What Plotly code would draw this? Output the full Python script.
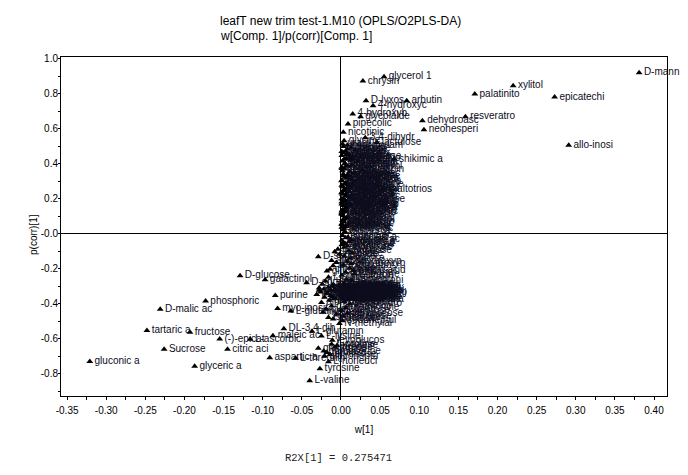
import plotly.graph_objects as go

# Outlying, individually readable variables
names_a = ["D-mann","xylitol","palatinito","epicatechi","glycerol 1","chrysin","D-lyxos","arbutin","4-hydroxyc","4-hydroxyb",
           "glycolalde","pipecolic","dehydroasc","resveratro","neohesperi","allo-inosi","nicotinic","3,4-dihydr","lactulose","shikimic a",
           "gluconic a","glyceric a","tartaric a","fructose","Sucrose","D-malic ac","phosphoric","D-glucose","galactinol","purine",
           "myo-inosit","L-glutamic","(-)-epicat","citric aci","L-ascorbic","maleic ac","DL-3,4-dih","aspartic a","L-threonin","L-valine",
           "tyrosine","L-norleuci","L-lysine","L-glutamin","N-methylal","L-proline","glutamine","homoserine","D-serine","D-sorbitol"]
w_a = [0.381,0.220,0.171,0.273,0.055,0.028,0.032,0.084,0.041,0.015,
       0.025,0.009,0.104,0.159,0.106,0.291,0.003,0.031,0.046,0.068,
       -0.321,-0.187,-0.248,-0.193,-0.226,-0.231,-0.173,-0.129,-0.097,-0.084,
       -0.081,-0.064,-0.155,-0.145,-0.116,-0.087,-0.073,-0.091,-0.058,-0.040,
       -0.027,-0.016,-0.025,-0.037,-0.002,-0.012,-0.029,-0.022,-0.029,-0.044]
p_a = [0.919,0.845,0.797,0.780,0.896,0.871,0.759,0.759,0.730,0.683,
       0.667,0.626,0.645,0.667,0.593,0.504,0.578,0.547,0.520,0.425,
       -0.732,-0.759,-0.555,-0.565,-0.662,-0.433,-0.386,-0.241,-0.264,-0.355,
       -0.428,-0.443,-0.603,-0.662,-0.605,-0.584,-0.544,-0.710,-0.713,-0.841,
       -0.773,-0.733,-0.586,-0.559,-0.515,-0.633,-0.656,-0.672,-0.133,-0.281]

# Crowded upper column
names_b = ["glycine","hydroxylam","uracil","thymine","adenine","ribose","xylose","lyxose","arabinose","fucose",
           "rhamnose","salicin","naringin","hesperidin","quercetin","kaempferol","catechin","rutin","gallic aci","caffeic ac",
           "ferulic ac","vanillic a","benzoic ac","sinapic ac","cinnamic a","quinic aci","chlorogeni","syringic a","tryptophan","adenosine",
           "guanosine","uridine","cytidine","inosine","xanthine","hypoxanthi","sucrose-6","maltose","maltotrios","cellobiose",
           "melibiose","raffinose","trehalose","turanose","lactose","sophorose","gentiobios","stearic ac","palmitic a","oleic acid",
           "linoleic a","myristic a","lauric aci","capric aci","beta-sitos","campestero","stigmaster","cholestero","DL-isoprop","alpha-keto",
           "alpha-toco","beta-alani","threitol","erythritol","arabitol","ribitol","pinitol","mannitol","lanosterol","squalene",
           "sebacic ac","azelaic ac","suberic ac","adipic aci","glutaric a",
           "apigenin","luteolin","myricetin","daidzein","genistein","phloretin","phlorizin","taxifolin","eriodictyo","amygdalin",
           "sesamol","thymol","eugenol","coumarin","scopoletin","esculetin","umbellifer","vanillin","tyrosol","orcinol",
           "pyrogallol","resorcinol","catechol","hydroquino","gentisic a","protocatec","homovanill","mandelic a","tropic aci","hippuric a",
           "nonanoic a","octanoic a","heptanoic","behenic ac","arachidic","lignoceric","tocopherol","phytol","farnesol","geraniol"]
w_b = [0.004,0.008,0.002,0.013,0.006,0.018,0.010,0.003,0.015,0.007,
       0.001,0.012,0.021,0.005,0.014,0.009,0.027,0.001,0.011,0.016,
       0.005,0.009,0.002,0.013,0.007,0.012,0.003,0.017,0.008,0.001,
       0.015,0.005,0.010,0.001,0.013,0.007,0.003,0.019,0.055,0.010,
       0.004,0.014,0.001,0.012,0.006,0.016,0.002,0.008,0.001,0.011,
       0.005,0.013,0.003,0.007,0.010,0.001,0.005,0.001,0.002,0.003,
       0.006,0.001,0.008,0.003,0.011,0.001,0.005,0.009,0.002,0.007,
       0.001,0.004,0.001,0.003,0.005,
       0.003,0.008,0.001,0.007,0.012,0.004,0.010,0.002,0.015,0.005,
       0.007,0.001,0.011,0.003,0.008,0.005,0.013,0.001,0.006,0.009,
       0.002,0.012,0.004,0.001,0.007,0.010,0.003,0.005,0.001,0.008,
       0.003,0.007,0.002,0.005,0.001,0.008,0.003,0.004,0.001,0.006]
p_b = [0.530,0.505,0.512,0.488,0.470,0.478,0.455,0.462,0.440,0.432,
       0.446,0.418,0.410,0.402,0.392,0.385,0.363,0.378,0.354,0.345,
       0.368,0.336,0.358,0.326,0.316,0.310,0.330,0.300,0.293,0.305,
       0.280,0.285,0.272,0.276,0.262,0.254,0.266,0.248,0.254,0.240,
       0.245,0.220,0.232,0.205,0.214,0.195,0.224,0.184,0.198,0.174,
       0.188,0.165,0.178,0.152,0.158,0.168,0.142,0.128,0.122,0.071,
       0.132,0.110,0.095,0.102,0.062,0.118,0.085,0.048,0.074,0.040,
       0.056,0.030,0.036,0.022,0.012,
       0.497,0.483,0.468,0.452,0.438,0.424,0.426,0.414,0.428,0.398,
       0.388,0.372,0.350,0.340,0.332,0.322,0.312,0.302,0.290,0.278,
       0.268,0.258,0.250,0.236,0.228,0.210,0.200,0.190,0.180,0.170,
       0.160,0.148,0.136,0.125,0.114,0.090,0.080,0.066,0.052,0.044]

# Crowded lower column and dense band
names_c = ["pyruvic ac","lactic aci","oxalic aci","succinic a","fumaric ac","glycolic a","malonic ac","threonic a","ribonic ac","xylonic ac",
           "galactose","mannose","sorbose","tagatose","psicose","allose","altrose","talose","gulose","idose",
           "2-hydroxyp","3-hydroxyp","isocitric","oxoglutari","aconitic a","citramalic","mucic acid","saccharic","glucuronic","galacturon",
           "L-alanine","L-leucine","L-isoleuci","L-serine","L-methioni","L-cysteine","L-arginine","L-histidin","L-phenylal","L-asparagi",
           "ornithine","citrulline","putrescine","spermidine","GABA","taurine","sarcosine","creatinine","betaine","choline",
           "urea","allantoin","ethanolami","phosphoeth","glycerophs","inositol-4","fructose-6","glucose-6-","mannose-6-","ribose-5-p",
           "nicotinami","pantothen","ascorbate","dehydroqui","pyroglutam","alpha-ketog","beta-hydro","gamma-toco","methionine","cystathion",
           "1-kestose","nystose","verbascose","stachyose","planteose","isomaltose","leucrose","palatinose","sedoheptul","xylulose",
           "ribulose","erythrose","threose","glucoheptu","levoglucos",
           "benzylamin","tyramine","dopamine","serotonin","histamine","agmatine","cadaverine","anthranili","kynurenine","picolinic",
           "saccharopi","aminoadipi","diaminopim","homocystei","glutathion","acetylglut","acetylseri","hydroxypro","oxoproline","indoleacet",
           "glutarate","itaconic a","mesaconic","citraconic","ketoglutar","pentonic a","lyxonic ac","arabonic a","galactonic","mannonic a"]
w_c = [0.002,0.006,0.001,0.009,0.003,0.011,0.001,0.006,0.004,0.013,
       -0.004,0.008,-0.008,0.010,-0.002,0.014,-0.012,0.004,0.012,-0.006,
       0.008,0.013,-0.010,0.003,0.011,-0.014,0.016,0.006,-0.018,0.001,
       -0.016,0.017,0.007,-0.020,0.014,0.004,-0.024,0.019,0.009,-0.011,
       -0.028,0.016,0.002,-0.022,0.012,-0.007,0.018,0.008,-0.026,0.020,
       0.005,-0.017,0.015,-0.031,0.009,0.001,-0.013,0.017,0.003,-0.021,
       0.010,-0.009,0.014,-0.015,0.004,-0.025,0.011,-0.012,0.006,-0.019,
       0.001,-0.023,0.008,-0.006,0.003,-0.016,-0.010,-0.028,0.002,-0.005,
       -0.018,-0.014,-0.008,-0.021,-0.011,
       -0.010,0.003,0.011,-0.003,0.016,0.007,-0.016,0.018,0.004,-0.008,
       0.013,0.001,-0.013,0.009,0.017,-0.005,0.006,0.015,-0.019,0.008,
       0.003,0.011,-0.002,0.017,0.006,-0.011,0.014,0.002,-0.007,0.008]
p_c = [-0.012,-0.025,-0.038,-0.022,-0.052,-0.046,-0.065,-0.058,-0.078,-0.034,
       -0.090,-0.072,-0.105,-0.098,-0.118,-0.112,-0.155,-0.130,-0.142,-0.166,
       -0.158,-0.172,-0.185,-0.182,-0.198,-0.205,-0.212,-0.222,-0.215,-0.238,
       -0.250,-0.232,-0.262,-0.272,-0.268,-0.285,-0.290,-0.296,-0.298,-0.302,
       -0.312,-0.308,-0.310,-0.318,-0.320,-0.325,-0.328,-0.332,-0.335,-0.338,
       -0.340,-0.342,-0.345,-0.348,-0.350,-0.352,-0.355,-0.358,-0.362,-0.365,
       -0.368,-0.372,-0.375,-0.382,-0.388,-0.395,-0.402,-0.415,-0.425,-0.432,
       -0.442,-0.450,-0.456,-0.462,-0.472,-0.480,-0.488,-0.325,-0.498,-0.640,
       -0.680,-0.692,-0.650,-0.700,-0.610,
       -0.292,-0.294,-0.297,-0.300,-0.303,-0.305,-0.307,-0.311,-0.314,-0.316,
       -0.319,-0.322,-0.324,-0.327,-0.330,-0.333,-0.336,-0.339,-0.341,-0.344,
       -0.347,-0.349,-0.353,-0.356,-0.359,-0.363,-0.366,-0.369,-0.373,-0.378]

x_ticks = [-0.35,-0.30,-0.25,-0.20,-0.15,-0.10,-0.05,0.00,0.05,0.10,0.15,0.20,0.25,0.30,0.35,0.40]
x_labels = ["-0.35","-0.30","-0.25","-0.20","-0.15","-0.10","-0.05","0.00","0.05","0.10","0.15","0.20","0.25","0.30","0.35","0.40"]
y_ticks = [1.0,0.8,0.6,0.4,0.2,0.0,-0.2,-0.4,-0.6,-0.8]
y_labels = ["1.0","0.8","0.6","0.4","0.2","-0.0","-0.2","-0.4","-0.6","-0.8"]

names = names_a + names_b + names_c
w = w_a + w_b + w_c
p = p_a + p_b + p_c

INK = "#0c0c1c"
fig = go.Figure(go.Scatter(
    x=w, y=p, text=names, mode="markers+text", textposition="middle right",
    marker=dict(symbol="triangle-up", size=6, color="black", line=dict(width=0)),
    textfont=dict(family="Liberation Sans", size=10, color=INK),
    cliponaxis=False, showlegend=False))

axis_common = dict(showgrid=False, zeroline=True, zerolinecolor="black", zerolinewidth=1,
                   showline=True, linecolor="black", linewidth=1, mirror=True,
                   ticks="outside", tickcolor="black", tickwidth=1,
                   tickfont=dict(family="Liberation Sans", size=10, color="black"),
                   title_font=dict(family="Liberation Sans", size=10, color="black"))
fig.update_xaxes(range=[-0.3578,0.4166], tickmode="array", tickvals=x_ticks, ticktext=x_labels,
                 ticklen=3, ticklabelstandoff=2,
                 minor=dict(dtick=0.025, tick0=0, ticks="outside", ticklen=3, tickcolor="black", showgrid=False),
                 title_text="w[1]", title_standoff=10, **axis_common)
fig.update_yaxes(range=[-0.9286,1.0086], tickmode="array", tickvals=y_ticks, ticktext=y_labels,
                 ticklen=2, ticklabelstandoff=-2,
                 minor=dict(dtick=0.1, tick0=0, ticks="outside", ticklen=2, tickcolor="black", showgrid=False),
                 **axis_common)

# The page adds an 8 px body margin, so the plot area is placed 8 px up and left of its target.
fig.update_layout(
    width=688, height=475, autosize=False, paper_bgcolor="white", plot_bgcolor="white",
    margin=dict(l=53, r=29, t=49, b=87),
    annotations=[
        dict(text="leafT new trim test-1.M10 (OPLS/O2PLS-DA)", xref="paper", yref="paper",
             x=(218-61)/606, y=(396-21)/339, xanchor="left", yanchor="middle", showarrow=False,
             font=dict(family="Liberation Sans", size=12, color="black")),
        dict(text="w[Comp. 1]/p(corr)[Comp. 1]", xref="paper", yref="paper",
             x=(218-61)/606, y=(396-36)/339, xanchor="left", yanchor="middle", showarrow=False,
             font=dict(family="Liberation Sans", size=12, color="black")),
        dict(text="p(corr)[1]", xref="paper", yref="paper", textangle=-90,
             x=(33-61)/606, y=(396-235)/339, xanchor="center", yanchor="middle", showarrow=False,
             font=dict(family="Liberation Sans", size=10, color="black")),
        dict(text="R2X[1] = 0.275471", xref="paper", yref="paper",
             x=(338-61)/606, y=(396-458)/339, xanchor="center", yanchor="middle", showarrow=False,
             font=dict(family="Liberation Mono", size=10.5, color="#222222")),
    ])
fig.write_html("out.html")
